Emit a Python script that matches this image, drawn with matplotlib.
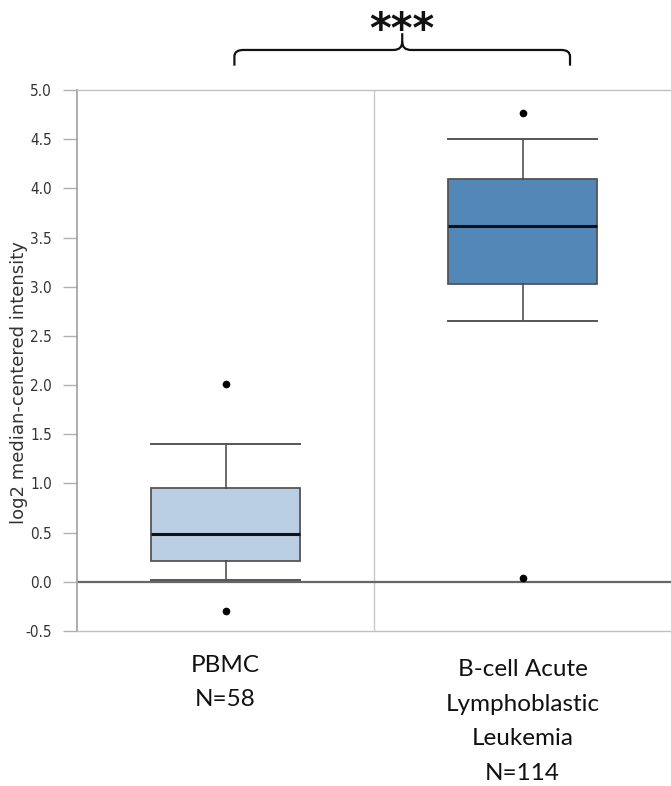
import matplotlib
matplotlib.use("Agg")
import matplotlib.pyplot as plt
from matplotlib.path import Path
from matplotlib.patches import PathPatch
import matplotlib.transforms as mtransforms

# ---- data ----
categories = ["PBMC\nN=58", "B-cell Acute\nLymphoblastic\nLeukemia\nN=114"]
whisker_low = [0.02, 2.65]
q1 = [0.21, 3.03]
median = [0.49, 3.62]
q3 = [0.95, 4.10]
whisker_high = [1.40, 4.50]
outliers = [[2.01, -0.30], [4.77, 0.04]]
box_colors = ["#bacfe4", "#5287b8"]
y_ticks = [-0.5, 0.0, 0.5, 1.0, 1.5, 2.0, 2.5, 3.0, 3.5, 4.0, 4.5, 5.0]
significance = "***"

W, H = 671, 786
fig = plt.figure(figsize=(W / 100, H / 100), dpi=100)
ax = fig.add_axes([77 / W, (H - 631) / H, 594 / W, 541 / H])

stats = []
for i in range(len(categories)):
    stats.append(dict(whislo=whisker_low[i], q1=q1[i], med=median[i], q3=q3[i],
                      whishi=whisker_high[i], fliers=outliers[i]))

positions = list(range(len(categories)))
bp = ax.bxp(stats, positions=positions, widths=0.505, patch_artist=True,
            showfliers=True, manage_ticks=False,
            boxprops=dict(edgecolor="#555555", linewidth=1.3),
            medianprops=dict(color="#111111", linewidth=2.2),
            whiskerprops=dict(color="#444444", linewidth=1.1),
            capprops=dict(color="#555555", linewidth=1.4),
            flierprops=dict(marker="o", markerfacecolor="black", markeredgecolor="black",
                            markersize=4.5, linestyle="none"))
for patch, c in zip(bp["boxes"], box_colors):
    patch.set_facecolor(c)
for cap in bp["caps"]:
    xd = cap.get_xdata()
    cx = (xd[0] + xd[1]) / 2
    cap.set_xdata([cx - 0.2525, cx + 0.2525])

ax.set_xlim(-0.5, 1.5)
ax.set_ylim(-0.5, 5.0)
ax.axhline(0.0, color="#666666", linewidth=1.6, zorder=1)
ax.axvline(0.5, color="#c8c8c8", linewidth=1.0, zorder=0)

for s in ["top", "bottom"]:
    ax.spines[s].set_color("#c0c0c0")
    ax.spines[s].set_linewidth(1.0)
ax.spines["left"].set_color("#a0a0a0")
ax.spines["left"].set_linewidth(1.2)
ax.spines["right"].set_visible(False)

ax.set_yticks(y_ticks)
ax.set_yticklabels([f"{t:.1f}" for t in y_ticks], fontstretch="condensed",
                   family="DejaVu Sans")
ax.tick_params(axis="y", direction="out", length=10, width=1.0, color="#b0b0b0",
               labelsize=11, labelcolor="#333333", pad=8)
ax.set_xticks([])
ax.set_ylabel("log2 median-centered intensity", fontsize=13, color="#333333",
              family="DejaVu Sans")
ax.yaxis.set_label_coords(-0.083, 0.46)

label_y = [-0.74, -0.785]
for p, lab, ly in zip(positions, categories, label_y):
    ax.text(p, ly, lab, ha="center", va="top", fontsize=17.5, family="Lato",
            color="#111111", linespacing=1.8, transform=ax.transData)

# significance bracket (x in data, y in axes coords)
trans = mtransforms.blended_transform_factory(ax.transData, ax.transAxes)
xl, xr = positions[0] + 0.03, positions[1] + 0.16
xm = (xl + xr) / 2
yb, yt, ytip = 1.045, 1.074, 1.105
r = 0.03
verts = [(xl, yb), (xl, yt - 0.012), (xl, yt), (xl + r, yt),
         (xm - r, yt), (xm, yt), (xm, ytip - 0.016), (xm, ytip)]
codes = [Path.MOVETO, Path.LINETO, Path.CURVE3, Path.CURVE3,
         Path.LINETO, Path.CURVE3, Path.CURVE3, Path.LINETO]
verts2 = [(xr, yb), (xr, yt - 0.012), (xr, yt), (xr - r, yt),
          (xm + r, yt), (xm, yt), (xm, ytip - 0.016)]
codes2 = [Path.MOVETO, Path.LINETO, Path.CURVE3, Path.CURVE3,
          Path.LINETO, Path.CURVE3, Path.CURVE3]
for v, c in [(verts, codes), (verts2, codes2)]:
    ax.add_patch(PathPatch(Path(v, c), facecolor="none", edgecolor="#111111",
                           linewidth=1.6, transform=trans, clip_on=False))
ax.text(xm, 1.148, significance, ha="center", va="top", fontsize=30,
        fontweight="bold", family="DejaVu Sans", color="#111111",
        transform=trans, clip_on=False)

fig.savefig("out.png", dpi=100)
